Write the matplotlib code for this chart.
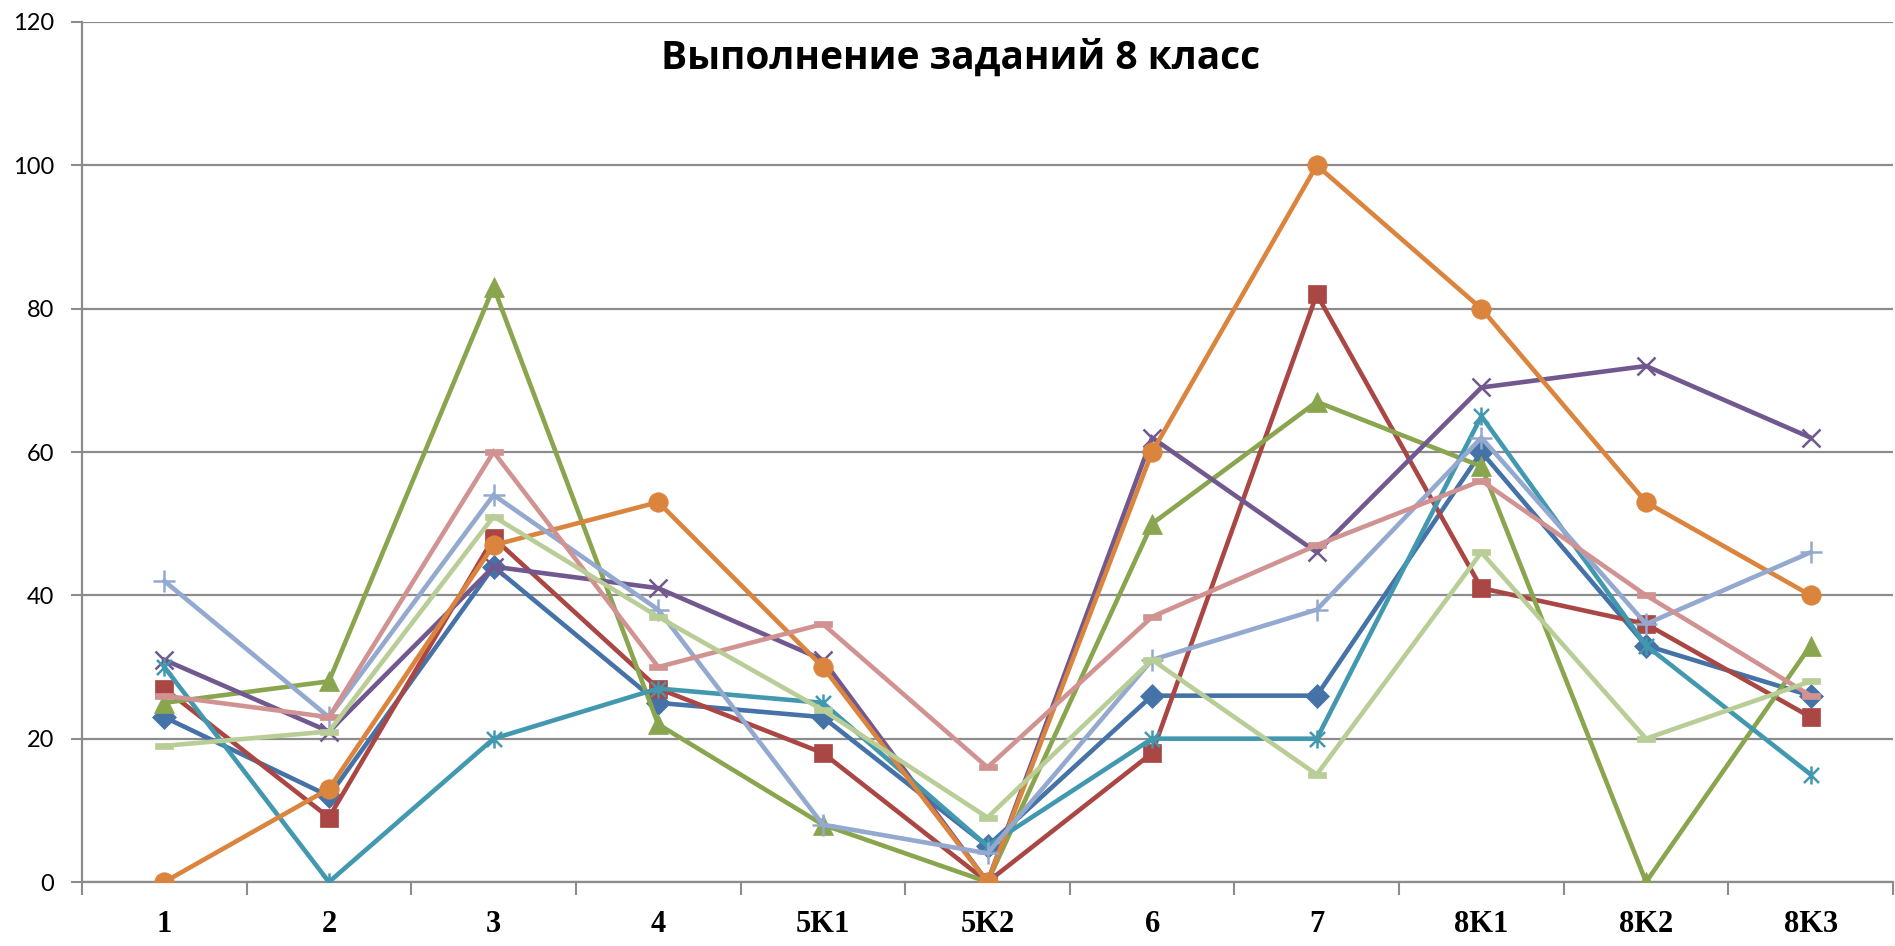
import numpy as np
import matplotlib
matplotlib.use("Agg")
import matplotlib.pyplot as plt
from matplotlib.path import Path

categories = ['1', '2', '3', '4', '5K1', '5K2', '6', '7', '8K1', '8K2', '8K3']

s_blue = [23, 12, 44, 25, 23, 5, 26, 26, 60, 33, 26]
s_red = [27, 9, 48, 27, 18, 0, 18, 82, 41, 36, 23]
s_green = [25, 28, 83, 22, 8, 0, 50, 67, 58, 0, 33]
s_purple = [31, 21, 44, 41, 31, 0, 62, 46, 69, 72, 62]
s_teal = [30, 0, 20, 27, 25, 5, 20, 20, 65, 33, 15]
s_orange = [0, 13, 47, 53, 30, 0, 60, 100, 80, 53, 40]
s_lightblue = [42, 23, 54, 38, 8, 4, 31, 38, 62, 36, 46]
s_pink = [26, 23, 60, 30, 36, 16, 37, 47, 56, 40, 26]
s_lightgreen = [19, 21, 51, 37, 24, 9, 31, 15, 46, 20, 28]

# asterisk marker like the excel "star"
M, L = Path.MOVETO, Path.LINETO
star = Path([(-1, -1), (1, 1), (-1, 1), (1, -1), (0, -1.2), (0, 1.2)],
            [M, L, M, L, M, L])
dash = Path([(-1, -0.35), (1, -0.35), (1, 0.35), (-1, 0.35), (-1, -0.35)],
            [M, L, L, L, Path.CLOSEPOLY])

series = [
    (s_blue, '#4572A7', 'D', 12),
    (s_red, '#AA4643', 's', 13),
    (s_green, '#89A54E', '^', 15),
    (s_purple, '#71588F', 'x', 13),
    (s_teal, '#4198AF', star, 13),
    (s_orange, '#DB843D', 'o', 14),
    (s_lightblue, '#93A9CF', '+', 16),
    (s_pink, '#D19392', dash, 13),
    (s_lightgreen, '#B9CD96', dash, 13),
]

fig = plt.figure(figsize=(18.95, 9.46), dpi=100)
ax = fig.add_axes([82 / 1895, 64 / 946, 1811 / 1895, 860 / 946])

x = np.arange(len(categories))
for vals, col, mk, ms in series:
    open_marker = mk in ('x', '+') or mk is star
    ax.plot(x, vals, color=col, lw=3.3, marker=mk, ms=ms,
            markerfacecolor='none' if open_marker else col,
            markeredgecolor=col, markeredgewidth=1.8 if open_marker else 0.5,
            solid_joinstyle='miter', zorder=3)

ax.set_xlim(-0.5, len(categories) - 0.5)
ax.set_ylim(0, 120)
ax.set_yticks(range(0, 121, 20))
ax.yaxis.grid(True, color='#8C8C8C', lw=1.6)
ax.set_axisbelow(True)

ax.set_xticks(x)
ax.set_xticklabels(categories, fontfamily='Liberation Serif', fontweight='bold', fontsize=22)
ax.set_xticks(np.arange(-0.5, len(categories), 1), minor=True)
ax.tick_params(axis='x', which='major', length=0, pad=20)
ax.tick_params(axis='x', which='minor', length=9, width=1.5, color='#8C8C8C', direction='out')
ax.tick_params(axis='y', length=8, width=1.5, color='#8C8C8C', labelsize=17, pad=12)
for lab in ax.get_yticklabels():
    lab.set_fontfamily('Lato')

for side in ('top', 'right'):
    ax.spines[side].set_visible(False)
for side in ('left', 'bottom'):
    ax.spines[side].set_color('#8C8C8C')
    ax.spines[side].set_linewidth(1.6)

ax.text(0.485, 0.958, 'Выполнение заданий 8 класс', transform=ax.transAxes,
        ha='center', va='center', fontsize=28, fontweight='bold', fontfamily='Open Sans')

fig.savefig('out.png', dpi=100)
